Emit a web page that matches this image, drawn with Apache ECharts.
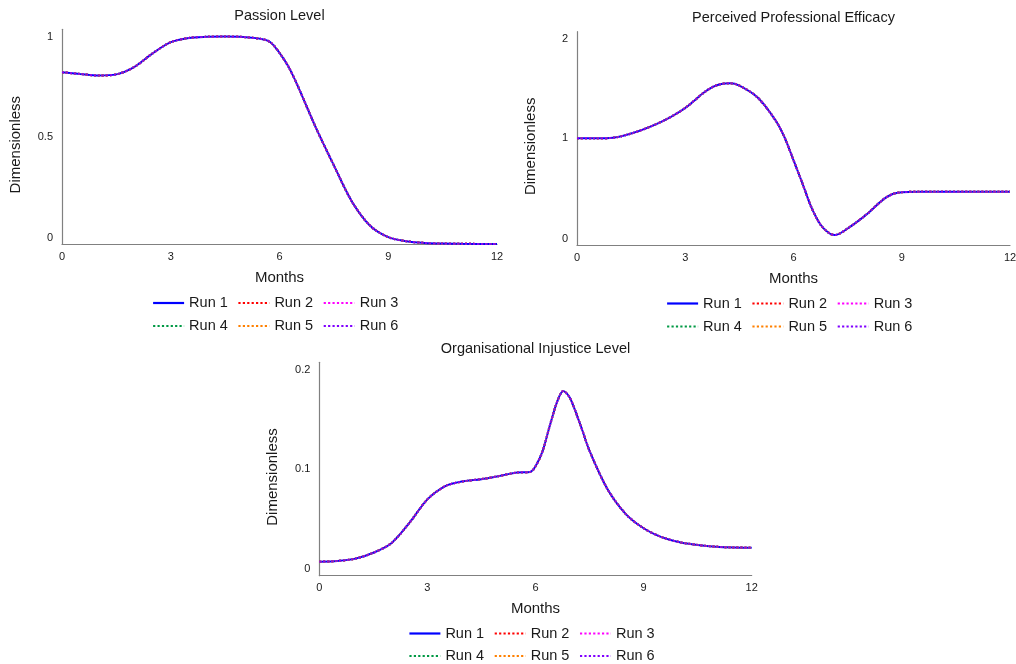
<!DOCTYPE html>
<html>
<head>
<meta charset="utf-8">
<style>
  html, body { margin: 0; padding: 0; background: #fff; }
  #chart { width: 1016px; height: 664px; }
</style>
<script src="https://cdn.jsdelivr.net/npm/echarts@6/dist/echarts.min.js"></script>
</head>
<body>
<div id="chart"></div>
<script>
// ---- data ----
const runNames = ['Run 1', 'Run 2', 'Run 3', 'Run 4', 'Run 5', 'Run 6'];
const runColors = ['#0000ff', '#ff0000', '#ff00ff', '#009944', '#ff8000', '#8000ff'];
const runTypes = ['solid', 'dotted', 'dotted', 'dotted', 'dotted', 'dotted'];

const xTicks = [0, 3, 6, 9, 12];

const passionMonths = [0, 0.5, 1, 1.5, 2, 2.5, 3, 3.5, 4, 4.5, 5, 5.5, 5.75, 6, 6.25, 6.5, 7, 7.5, 8, 8.5, 9, 9.5, 10, 10.5, 11, 12];
const passionLevel  = [0.800, 0.792, 0.785, 0.790, 0.825, 0.888, 0.940, 0.960, 0.965, 0.966, 0.964, 0.955, 0.940, 0.890, 0.825, 0.738, 0.543, 0.366, 0.197, 0.085, 0.032, 0.013, 0.005, 0.002, 0.001, 0.000];

const efficacyMonths = [0, 0.5, 1, 1.5, 2, 2.5, 3, 3.5, 3.75, 4, 4.25, 4.5, 5, 5.5, 5.75, 6, 6.25, 6.5, 6.75, 7, 7.15, 7.5, 8, 8.5, 8.75, 9, 9.5, 10, 12];
const efficacy       = [1.000, 1.000, 1.005, 1.045, 1.105, 1.183, 1.285, 1.425, 1.480, 1.510, 1.517, 1.495, 1.385, 1.170, 1.010, 0.795, 0.575, 0.350, 0.190, 0.108, 0.094, 0.155, 0.280, 0.430, 0.478, 0.495, 0.500, 0.500, 0.500];

const injusticeMonths = [0, 0.5, 1, 1.5, 2, 2.5, 3, 3.5, 4, 4.5, 5, 5.5, 5.85, 6, 6.2, 6.4, 6.6, 6.77, 6.95, 7.25, 7.5, 8, 8.5, 9, 9.5, 10, 10.5, 11, 11.5, 12];
const injustice       = [0.0131, 0.0138, 0.0160, 0.0215, 0.0305, 0.0495, 0.0715, 0.0840, 0.0885, 0.0905, 0.0935, 0.0968, 0.0972, 0.1025, 0.117, 0.141, 0.163, 0.173, 0.167, 0.141, 0.117, 0.081, 0.058, 0.0445, 0.0362, 0.0314, 0.0288, 0.0272, 0.0265, 0.0262];

const yTicks1 = [0, 0.5, 1];
const yTicks2 = [0, 1, 2];
const yTicks3 = [0, 0.1, 0.2];

const titles = ['Passion Level', 'Perceived Professional Efficacy', 'Organisational Injustice Level'];

// ---- build ----
const FONT = '"Liberation Sans", Arial, Helvetica, sans-serif';
const TXT = '#1a1a1a';

const grids = [
  { left: 62, top: 29.3, width: 435, height: 214.7 },
  { left: 577, top: 31.7, width: 433, height: 213.3 },
  { left: 319.3, top: 362.3, width: 432.4, height: 213.4 }
];

function xAx(i) {
  return {
    type: 'value', gridIndex: i, min: 0, max: 12, interval: 3,
    name: 'Months', nameLocation: 'middle', nameGap: 26,
    nameTextStyle: { fontSize: 15, color: TXT, fontFamily: FONT },
    axisLine: { show: true, lineStyle: { color: '#808080', width: 1.2 } },
    axisTick: { show: false },
    splitLine: { show: false },
    axisLabel: { customValues: xTicks, fontSize: 11, color: TXT, fontFamily: FONT, margin: 7 }
  };
}
function yAx(i, ticks) {
  return {
    type: 'value', gridIndex: i, min: ticks[0], max: ticks[2], interval: ticks[1],
    name: 'Dimensionless', nameLocation: 'middle', nameGap: 39,
    nameTextStyle: { fontSize: 15, color: TXT, fontFamily: FONT, padding: [0, 16, 0, 0] },
    axisLine: { show: true, lineStyle: { color: '#808080', width: 1.2 } },
    axisTick: { show: false },
    splitLine: { show: false },
    axisLabel: {
      customValues: ticks, fontSize: 11, color: TXT, fontFamily: FONT, margin: 9,
      verticalAlignMinLabel: 'bottom', verticalAlignMaxLabel: 'top',
      padding: [2, 0, 1, 0]
    }
  };
}

const datasets = [
  [passionMonths, passionLevel],
  [efficacyMonths, efficacy],
  [injusticeMonths, injustice]
];

const series = [];
datasets.forEach(([xs, ys], g) => {
  const pts = xs.map((m, k) => [m, ys[k]]);
  runNames.forEach((name, r) => {
    series.push({
      type: 'line', name: name, xAxisIndex: g, yAxisIndex: g,
      data: pts, symbol: 'none', smooth: 0.3,
      lineStyle: { color: runColors[r], width: 2, type: runTypes[r] },
      itemStyle: { color: runColors[r] },
      silent: true
    });
  });
});

const legendPos = [
  { left: 152, top: [295.5, 318.5] },
  { left: 666, top: [296, 319] },
  { left: 408.3, top: [626, 648.5] }
];
const legends = [];
legendPos.forEach(p => {
  [runNames.slice(0, 3), runNames.slice(3)].forEach((names, row) => {
    legends.push({
      data: names, left: p.left, top: p.top[row], orient: 'horizontal',
      itemWidth: 31, itemHeight: 10, itemGap: 9.5, padding: 0,
      itemStyle: { opacity: 0 },
      lineStyle: { width: 2.2 },
      textStyle: { fontSize: 14.5, color: TXT, fontFamily: FONT },
      selectedMode: false
    });
  });
});

const titleCenters = [[279.5, 8], [793.5, 10.5], [535.5, 341]];
const titleOpts = titles.map((t, i) => ({
  text: t, left: titleCenters[i][0], top: titleCenters[i][1], textAlign: 'center', padding: 0,
  textStyle: { fontSize: 14.5, fontWeight: 'normal', color: TXT, fontFamily: FONT }
}));

const option = {
  animation: false,
  backgroundColor: '#ffffff',
  title: titleOpts,
  grid: grids.map(g => Object.assign({ containLabel: false, outerBoundsMode: 'none' }, g)),
  xAxis: [xAx(0), xAx(1), xAx(2)],
  yAxis: [yAx(0, yTicks1), yAx(1, yTicks2), yAx(2, yTicks3)],
  legend: legends,
  series: series
};

const chart = echarts.init(document.getElementById('chart'), null, { renderer: 'canvas' });
chart.setOption(option);
</script>
</body>
</html>
